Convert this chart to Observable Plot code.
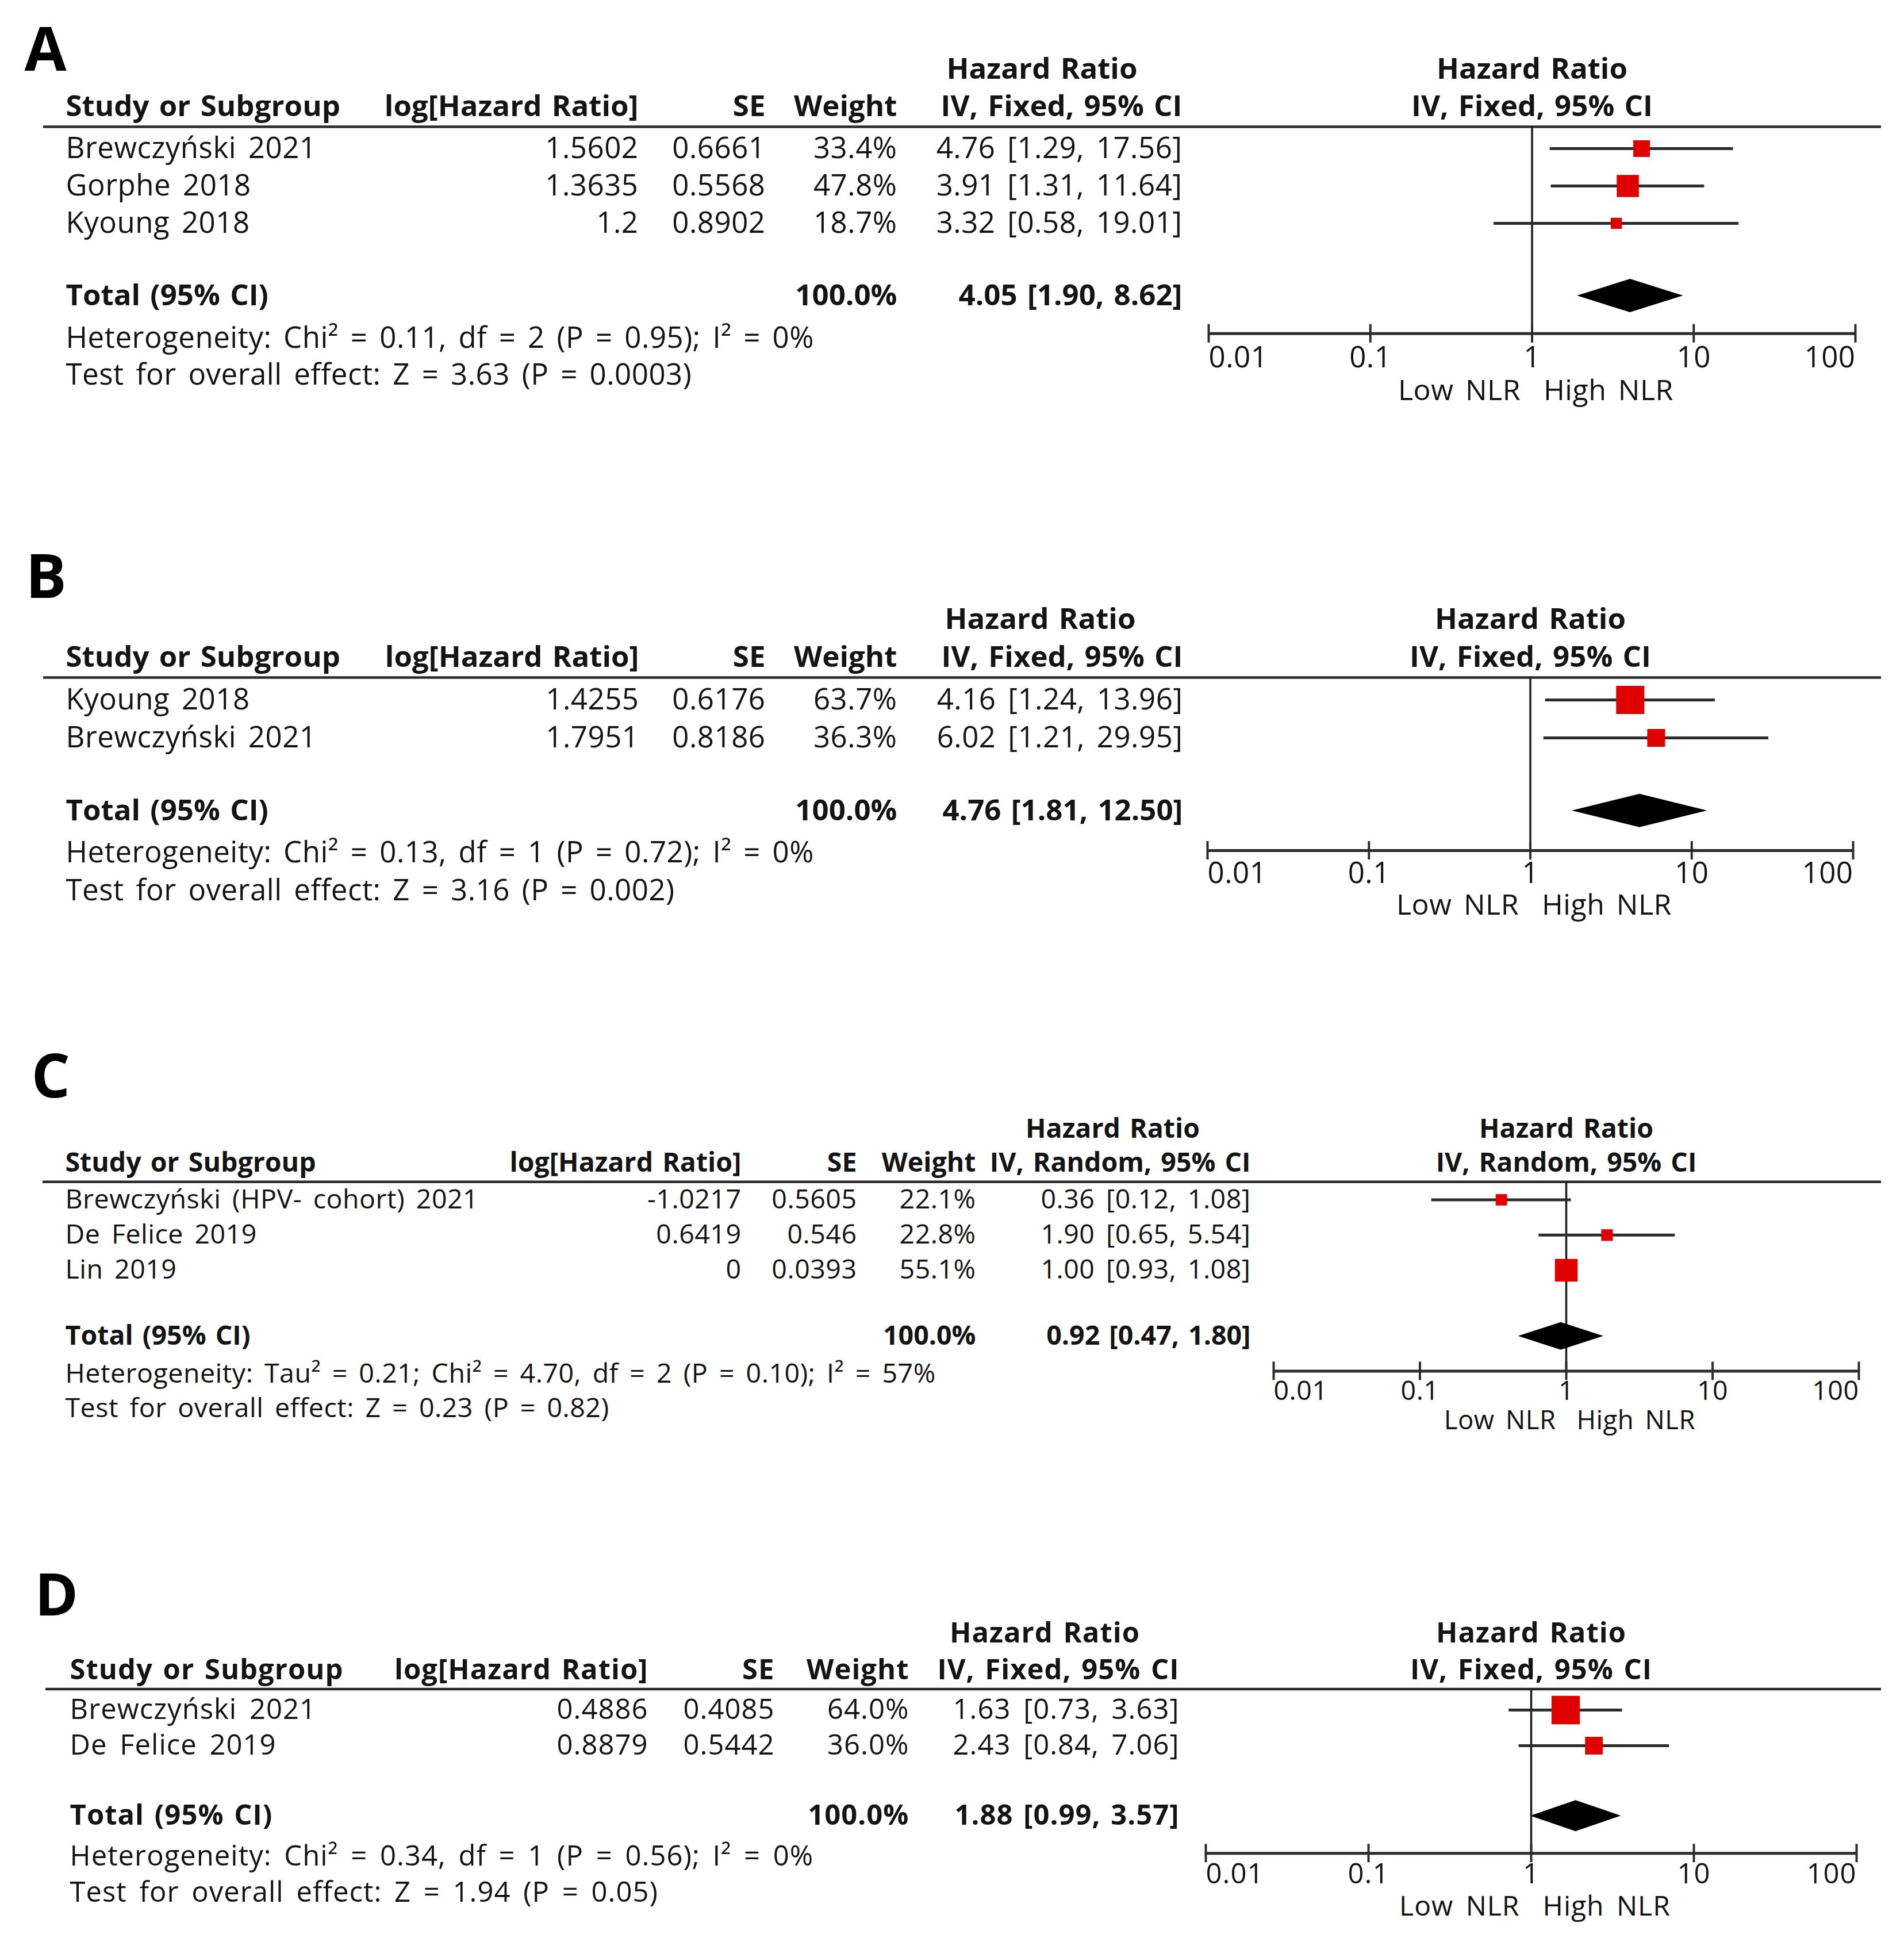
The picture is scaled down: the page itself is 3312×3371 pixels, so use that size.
<!DOCTYPE html>
<html><head><meta charset="utf-8">
<script src="https://cdn.jsdelivr.net/npm/d3@7"></script>
<script src="https://cdn.jsdelivr.net/npm/@observablehq/plot@0.6"></script>
<style>
html,body{margin:0;padding:0;background:#fff;}
#fig svg{display:block;}
#fig g[font-weight="700"]{word-spacing:4px;letter-spacing:0;}
#fig svg:last-child g[font-weight="700"]{letter-spacing:1px;}
</style></head><body><div id="fig"></div>
<script>
// ---------- data ----------
const axisTicks = [0.01, 0.1, 1, 10, 100];
const axisTickLabels = ["0.01", "0.1", "1", "10", "100"];
const sideLabels = ["Low NLR", "High NLR"];
const totalWeight = 100.0;

// Panel A
const studiesA = ["Brewczyński 2021", "Gorphe 2018", "Kyoung 2018"];
const logHrA = [1.5602, 1.3635, 1.2];
const seA = [0.6661, 0.5568, 0.8902];
const weightA = [33.4, 47.8, 18.7];
const hrA = [4.76, 3.91, 3.32];
const loA = [1.29, 1.31, 0.58];
const hiA = [17.56, 11.64, 19.01];
const totalA = [4.05, 1.90, 8.62];
const hetA = "Heterogeneity: Chi² = 0.11, df = 2 (P = 0.95); I² = 0%";
const testA = "Test for overall effect: Z = 3.63 (P = 0.0003)";

// Panel B
const studiesB = ["Kyoung 2018", "Brewczyński 2021"];
const logHrB = [1.4255, 1.7951];
const seB = [0.6176, 0.8186];
const weightB = [63.7, 36.3];
const hrB = [4.16, 6.02];
const loB = [1.24, 1.21];
const hiB = [13.96, 29.95];
const totalB = [4.76, 1.81, 12.50];
const hetB = "Heterogeneity: Chi² = 0.13, df = 1 (P = 0.72); I² = 0%";
const testB = "Test for overall effect: Z = 3.16 (P = 0.002)";

// Panel C
const studiesC = ["Brewczyński (HPV- cohort) 2021", "De Felice 2019", "Lin 2019"];
const logHrC = [-1.0217, 0.6419, 0];
const seC = [0.5605, 0.546, 0.0393];
const weightC = [22.1, 22.8, 55.1];
const hrC = [0.36, 1.90, 1.00];
const loC = [0.12, 0.65, 0.93];
const hiC = [1.08, 5.54, 1.08];
const totalC = [0.92, 0.47, 1.80];
const hetC = "Heterogeneity: Tau² = 0.21; Chi² = 4.70, df = 2 (P = 0.10); I² = 57%";
const testC = "Test for overall effect: Z = 0.23 (P = 0.82)";

// Panel D
const studiesD = ["Brewczyński 2021", "De Felice 2019"];
const logHrD = [0.4886, 0.8879];
const seD = [0.4085, 0.5442];
const weightD = [64.0, 36.0];
const hrD = [1.63, 2.43];
const loD = [0.73, 0.84];
const hiD = [3.63, 7.06];
const totalD = [1.88, 0.99, 3.57];
const hetD = "Heterogeneity: Chi² = 0.34, df = 1 (P = 0.56); I² = 0%";
const testD = "Test for overall effect: Z = 1.94 (P = 0.05)";

const fixedLabel = "IV, Fixed, 95% CI";
const randomLabel = "IV, Random, 95% CI";

// ---------- layout (pixels / row units) ----------
const layoutA = {height: 830, row0: 258, step: 65, left: 75, right: 3272, x0: 2102, x1: 3227, fs: 51, ls: 0.5, ws: 7, letterFs: 106, letterX: 42,
  letterRow: -2.6, hr1: -2.12, hr2: -1.12, lineRow: -0.585, totalGap: 1.94, axisRow: 4.95, hetRow: 5.08, testRow: 6.06,
  tickRow: 5.6, nlrRow: 6.49, cols: [114, 1110, 1331, 1560, 2056], hrX: 1812, diamond: 29, r0: 3.95, r100: 41.2, nlrGap: 20};
const layoutB = {height: 870, row0: 387, step: 66, left: 75, right: 3272, x0: 2100, x1: 3223, fs: 51, ls: 0.5, ws: 7, letterFs: 106, letterX: 44,
  letterRow: -3.21, hr1: -2.12, hr2: -1.12, lineRow: -0.59, totalGap: 1.92, axisRow: 3.97, hetRow: 4.03, testRow: 5.03,
  tickRow: 4.58, nlrRow: 5.42, cols: [114, 1111, 1331, 1560, 2057], hrX: 1809, diamond: 29, r0: 3.95, r100: 41.2, nlrGap: 20};
const layoutC = {height: 920, row0: 386.5, step: 61.3, left: 74, right: 3272, x0: 2215, x1: 3233, fs: 46.5, ls: 0.5, ws: 7, letterFs: 106, letterX: 54,
  letterRow: -3.45, hr1: -2.01, hr2: -1.04, lineRow: -0.51, totalGap: 1.87, axisRow: 4.86, hetRow: 4.95, testRow: 5.93,
  tickRow: 5.44, nlrRow: 6.27, cols: [113, 1289, 1490, 1697, 2175], hrX: 1935, diamond: 24, r0: 3.67, r100: 37.5, nlrGap: 18};
const layoutD = {height: 751, row0: 354, step: 62, left: 79, right: 3272, x0: 2097, x1: 3229, fs: 49, ls: 1, ws: 8, letterFs: 102, letterX: 60,
  letterRow: -3.18, hr1: -2.15, hr2: -1.11, lineRow: -0.59, totalGap: 1.97, axisRow: 4.02, hetRow: 4.11, testRow: 5.12,
  tickRow: 4.61, nlrRow: 5.52, cols: [121, 1127, 1347, 1581, 2051], hrX: 1817, diamond: 27, r0: 3.95, r100: 41.2, nlrGap: 20};

const INK = "#141414", LINE = "#2c2c2c", RED = "#e00000";
const FONT = "'Open Sans', sans-serif";

function forest(d, L) {
  const n = d.studies.length;
  const rows = d.studies.map((study, i) => ({
    i, study, logHr: d.logHr[i], se: d.se[i], w: d.weight[i], hr: d.hr[i], lo: d.lo[i], hi: d.hi[i]
  }));
  const totalRow = n - 1 + L.totalGap;
  const [tHr, tLo, tHi] = d.total;
  const dh = L.diamond / L.step;
  const th = 16 / L.step;
  const f2 = v => v.toFixed(2);
  const ci = (h, l, u) => `${f2(h)} [${f2(l)}, ${f2(u)}]`;
  const col = k => L.cols[k] - L.left;
  const one = v => () => v;
  const T = (data, o) => Plot.text(data, {frameAnchor: "left", fill: INK, fontSize: L.fs, text: t => t, ...o});
  const tickData = axisTicks.map((v, i) => ({v, label: axisTickLabels[i], i}));
  const last = axisTicks.length - 1;
  const diamond = [
    {x: tLo, y1: totalRow, y2: totalRow},
    {x: tHr, y1: totalRow - dh, y2: totalRow + dh},
    {x: tHi, y1: totalRow, y2: totalRow}
  ];

  const marks = [
    // panel letter
    T([d.letter], {y: one(L.letterRow), dx: L.letterX - L.left, textAnchor: "start", fontSize: L.letterFs, fontWeight: 700, fill: "#000"}),
    // left header
    T(["Hazard Ratio"], {y: one(L.hr1), dx: L.hrX - L.left, textAnchor: "middle", fontWeight: 700}),
    T(["Study or Subgroup"], {y: one(L.hr2), dx: col(0), textAnchor: "start", fontWeight: 700}),
    T(["log[Hazard Ratio]"], {y: one(L.hr2), dx: col(1), textAnchor: "end", fontWeight: 700}),
    T(["SE"], {y: one(L.hr2), dx: col(2), textAnchor: "end", fontWeight: 700}),
    T(["Weight"], {y: one(L.hr2), dx: col(3), textAnchor: "end", fontWeight: 700}),
    T([d.method], {y: one(L.hr2), dx: col(4), textAnchor: "end", fontWeight: 700}),
    // right header
    T(["Hazard Ratio"], {x: one(1), y: one(L.hr1), textAnchor: "middle", fontWeight: 700}),
    T([d.method], {x: one(1), y: one(L.hr2), textAnchor: "middle", fontWeight: 700}),
    // header rule
    Plot.ruleY([L.lineRow], {y: v => v, stroke: LINE, strokeWidth: 4.5}),
    // study rows
    T(rows, {y: "i", text: "study", dx: col(0), textAnchor: "start"}),
    T(rows, {y: "i", text: r => String(r.logHr), dx: col(1), textAnchor: "end"}),
    T(rows, {y: "i", text: r => String(r.se), dx: col(2), textAnchor: "end"}),
    T(rows, {y: "i", text: r => r.w.toFixed(1) + "%", dx: col(3), textAnchor: "end"}),
    T(rows, {y: "i", text: r => ci(r.hr, r.lo, r.hi), dx: col(4), textAnchor: "end"}),
    // total row
    T(["Total (95% CI)"], {y: one(totalRow), dx: col(0), textAnchor: "start", fontWeight: 700}),
    T([totalWeight], {y: one(totalRow), text: v => v.toFixed(1) + "%", dx: col(3), textAnchor: "end", fontWeight: 700}),
    T([d.total], {y: one(totalRow), text: t => ci(t[0], t[1], t[2]), dx: col(4), textAnchor: "end", fontWeight: 700}),
    // heterogeneity / overall effect
    T([d.het], {y: one(L.hetRow), dx: col(0), textAnchor: "start"}),
    T([d.test], {y: one(L.testRow), dx: col(0), textAnchor: "start"}),
    // line of no effect
    Plot.ruleX([1], {x: v => v, y1: one(L.lineRow), y2: one(L.axisRow), stroke: "#1e1e1e", strokeWidth: 3.5}),
    // confidence intervals
    Plot.ruleY(rows, {y: "i", x1: "lo", x2: "hi", stroke: LINE, strokeWidth: 5}),
    // study squares
    Plot.dot(rows, {x: "hr", y: "i", r: "w", symbol: "square", fill: RED, stroke: null}),
    // pooled diamond
    Plot.areaY(diamond, {x: "x", y1: "y1", y2: "y2", fill: "#000", curve: "linear"}),
    // axis
    Plot.ruleY([L.axisRow], {y: v => v, x1: one(axisTicks[0]), x2: one(axisTicks[last]), stroke: LINE, strokeWidth: 5}),
    Plot.ruleX(axisTicks, {x: v => v, y1: one(L.axisRow - th), y2: one(L.axisRow + th), stroke: LINE, strokeWidth: 4}),
    Plot.text(tickData.filter(t => t.i === 0), {x: "v", y: one(L.tickRow), text: "label", textAnchor: "start", fontSize: L.fs, fill: INK}),
    Plot.text(tickData.filter(t => t.i > 0 && t.i < last), {x: "v", y: one(L.tickRow), text: "label", textAnchor: "middle", fontSize: L.fs, fill: INK}),
    Plot.text(tickData.filter(t => t.i === last), {x: "v", y: one(L.tickRow), text: "label", textAnchor: "end", fontSize: L.fs, fill: INK}),
    Plot.text([sideLabels[0]], {x: one(1), y: one(L.nlrRow), text: t => t, textAnchor: "end", dx: -L.nlrGap, fontSize: L.fs - 1, fill: INK}),
    Plot.text([sideLabels[1]], {x: one(1), y: one(L.nlrRow), text: t => t, textAnchor: "start", dx: L.nlrGap, fontSize: L.fs - 1, fill: INK})
  ];

  return Plot.plot({
    width: 3312,
    height: L.height,
    marginLeft: L.left,
    marginRight: 3312 - L.right,
    marginTop: 0,
    marginBottom: 0,
    style: {fontFamily: FONT, background: "#fff", color: INK, overflow: "visible", wordSpacing: L.ws + "px", letterSpacing: L.ls + "px"},
    x: {type: "log", domain: [axisTicks[0], axisTicks[last]], range: [L.x0, L.x1], axis: null},
    y: {type: "linear", domain: [0, 1], range: [L.row0, L.row0 + L.step], axis: null},
    r: {type: "linear", domain: [0, 100], range: [L.r0, L.r100]},
    marks
  });
}

const panels = [
  [{letter: "A", studies: studiesA, logHr: logHrA, se: seA, weight: weightA, hr: hrA, lo: loA, hi: hiA, total: totalA, het: hetA, test: testA, method: fixedLabel}, layoutA],
  [{letter: "B", studies: studiesB, logHr: logHrB, se: seB, weight: weightB, hr: hrB, lo: loB, hi: hiB, total: totalB, het: hetB, test: testB, method: fixedLabel}, layoutB],
  [{letter: "C", studies: studiesC, logHr: logHrC, se: seC, weight: weightC, hr: hrC, lo: loC, hi: hiC, total: totalC, het: hetC, test: testC, method: randomLabel}, layoutC],
  [{letter: "D", studies: studiesD, logHr: logHrD, se: seD, weight: weightD, hr: hrD, lo: loD, hi: hiD, total: totalD, het: hetD, test: testD, method: fixedLabel}, layoutD]
];
const fig = document.getElementById("fig");
for (const [d, L] of panels) fig.appendChild(forest(d, L));
</script>
</body></html>
